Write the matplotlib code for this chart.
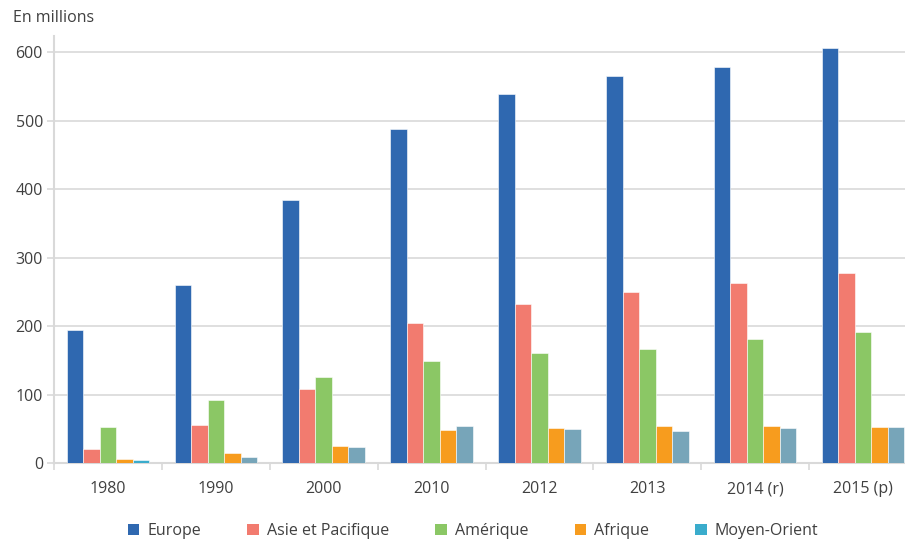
import numpy as np
import matplotlib.pyplot as plt
from matplotlib.patches import Patch

plt.rcParams['font.family'] = ['Open Sans', 'DejaVu Sans']

years = ['1980', '1990', '2000', '2010', '2012', '2013', '2014 (r)', '2015 (p)']
regions = ['Europe', 'Asie et Pacifique', 'Amérique', 'Afrique', 'Moyen-Orient']

europe = [194, 261, 385, 488, 540, 565, 578, 607]
asie = [21, 55.5, 109, 205, 233, 250, 263, 278]
amerique = [53, 92.5, 126.5, 149.5, 161, 167, 181, 192]
afrique = [6, 14.5, 25, 49, 51.5, 54.5, 54.5, 53]
moyen_orient = [5, 9, 24, 54.5, 50, 47, 51.5, 53]

colors = ['#2f68b0', '#f27b6f', '#8bc765', '#f79c1e', '#3aaccc']
mo_later = '#77a5b9'
text_col = '#404040'
grid_col = '#d9d9d9'

fig = plt.figure(figsize=(9.05, 5.42), dpi=100)
ax = fig.add_axes([54 / 905, 1 - 463.3 / 542, 863 / 905, (463.3 - 36) / 542])

x = np.arange(len(years))
w = 0.153
series = [europe, asie, amerique, afrique, moyen_orient]
for i, vals in enumerate(series):
    c = [colors[i]] * len(years)
    if i == 4:
        # only the 1980 bar keeps the legend colour in the original
        c = [colors[4]] + [mo_later] * (len(years) - 1)
    ax.bar(x + (i - 2) * w, vals, w, color=c, edgecolor='white', linewidth=0.4, zorder=3)

ax.set_xlim(-0.5, len(years) - 0.5)
ax.set_ylim(0, 624)
ax.set_yticks(range(0, 601, 100))
ax.set_xticks(x)
ax.set_xticklabels(years)
ax.set_xticks(np.arange(-0.5, len(years) - 0.4, 1), minor=True)

ax.grid(axis='y', color=grid_col, linewidth=1.2, zorder=0)
for s in ['top', 'right']:
    ax.spines[s].set_visible(False)
for s in ['left', 'bottom']:
    ax.spines[s].set_color(grid_col)
    ax.spines[s].set_linewidth(1.5)

ax.tick_params(axis='x', which='major', length=0, pad=13, labelsize=11.5, labelcolor=text_col)
ax.tick_params(axis='x', which='minor', length=5, width=1.2, color=grid_col)
ax.tick_params(axis='y', length=5, width=1.2, color=grid_col, pad=3, labelsize=11.5, labelcolor=text_col)

fig.text(13 / 905, 1 - 18 / 542, 'En millions', fontsize=11.5, color=text_col, va='center', ha='left')

handles = [Patch(facecolor=c) for c in colors]
fig.legend(handles, regions, loc='center', bbox_to_anchor=(473 / 905, 1 - 531 / 542), ncol=5,
           frameon=False, fontsize=11.5, labelcolor=text_col, handlelength=0.72, handleheight=0.72,
           handletextpad=0.5, columnspacing=2.9)

fig.savefig('out.png', dpi=100)
